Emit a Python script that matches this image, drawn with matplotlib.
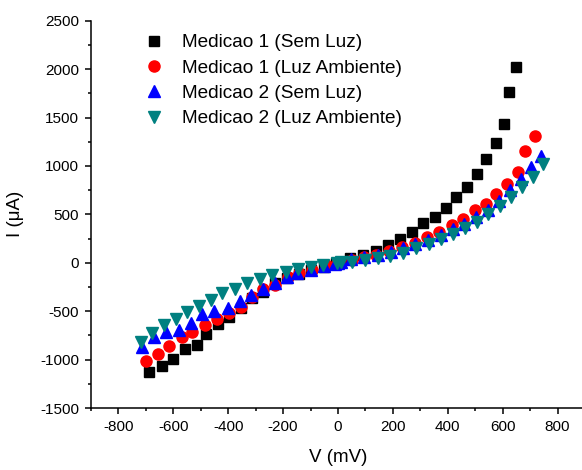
import matplotlib
matplotlib.use("Agg")
import matplotlib.pyplot as plt
from matplotlib.ticker import MultipleLocator

plt.rcParams['font.family'] = ['Liberation Sans', 'DejaVu Sans']
plt.rcParams['axes.unicode_minus'] = False

# Medicao 1 (Sem Luz)
v1 = [-687, -643, -600, -558, -515, -480, -436, -396, -354, -314, -272, -229,
      -186, -143, -98, -52, -8, 0, 8, 44, 91, 137, 183, 225, 268, 308, 352,
      393, 431, 471, 506, 541, 577, 604, 623, 648]
i1 = [-1126, -1064, -995, -892, -854, -733, -637, -558, -471, -368, -299, -213,
      -160, -115, -75, -40, -5, 0, 10, 52, 80, 124, 180, 245, 320, 407, 472,
      568, 679, 779, 920, 1068, 1233, 1436, 1760, 2020]

# Medicao 1 (Luz Ambiente)
v2 = [-698, -655, -616, -570, -531, -485, -442, -397, -354, -314, -275, -230,
      -184, -141, -95, -44, -5, 5, 50, 96, 140, 187, 235, 281, 324, 369, 414,
      455, 498, 538, 577, 617, 655, 681, 717]
i2 = [-1019, -943, -857, -771, -713, -640, -579, -517, -455, -357, -275, -230,
      -145, -103, -75, -24, -3, 5, 30, 59, 76, 121, 165, 207, 262, 317, 386,
      451, 541, 603, 713, 816, 937, 1157, 1312]

# Medicao 2 (Sem Luz)
v3 = [-714, -671, -625, -580, -537, -495, -452, -400, -358, -318, -272, -230,
      -186, -148, -99, -52, -10, 0, 10, 47, 95, 145, 192, 236, 282, 329, 374,
      419, 460, 504, 547, 587, 626, 667, 702, 740]
i3 = [-868, -771, -719, -695, -626, -533, -496, -471, -393, -334, -275, -213,
      -151, -110, -75, -35, -8, 0, 10, 35, 56, 83, 114, 148, 190, 234, 283,
      345, 400, 475, 544, 640, 751, 861, 985, 1102]

# Medicao 2 (Luz Ambiente)
v4 = [-718, -677, -635, -592, -552, -507, -464, -422, -376, -330, -285, -239,
      -190, -145, -99, -53, -4, 10, 51, 99, 145, 190, 237, 285, 330, 376, 420,
      464, 506, 546, 592, 632, 671, 711, 747]
i4 = [-816, -723, -647, -585, -506, -447, -385, -316, -269, -207, -165, -124,
      -99, -68, -41, -21, 0, 5, 7, 25, 49, 72, 103, 148, 193, 245, 296,
      355, 424, 503, 586, 676, 785, 889, 1020]

labels = ["Medicao 1 (Sem Luz)", "Medicao 1 (Luz Ambiente)",
          "Medicao 2 (Sem Luz)", "Medicao 2 (Luz Ambiente)"]

W, H = 582, 470
fig = plt.figure(figsize=(W / 100, H / 100), dpi=100)
ax = fig.add_axes([91 / W, (H - 408) / H, (585 - 91) / W, (408 - 20.7) / H])

ax.plot(v1, i1, ls='none', marker='s', ms=6.6, color='black', mec='black', label=labels[0])
ax.plot(v2, i2, ls='none', marker='o', ms=8.0, color='#ff0000', mec='#ff0000', label=labels[1])
ax.plot(v3, i3, ls='none', marker='^', ms=8.6, color='#0000ff', mec='#0000ff', label=labels[2])
ax.plot(v4, i4, ls='none', marker='v', ms=8.6, color='#008080', mec='#008080', label=labels[3])

ax.set_xlim(-900, 900)
ax.set_ylim(-1500, 2500)
ax.xaxis.set_major_locator(MultipleLocator(200))
ax.xaxis.set_minor_locator(MultipleLocator(100))
ax.yaxis.set_major_locator(MultipleLocator(500))
ax.yaxis.set_minor_locator(MultipleLocator(250))
ax.set_xticks([-800, -600, -400, -200, 0, 200, 400, 600, 800])

for side in ('top', 'right'):
    ax.spines[side].set_visible(False)
for side in ('left', 'bottom'):
    ax.spines[side].set_linewidth(1.1)

ax.tick_params(which='major', direction='out', length=4.2, width=1.1,
               labelsize=11, pad=4.5)
ax.tick_params(which='minor', direction='out', length=2.4, width=1.1)

ax.set_xlabel("V (mV)", fontsize=13.5)
ax.set_ylabel("I (μA)", fontsize=13.5)
ax.xaxis.set_label_coords(0.5, -0.105)
ax.yaxis.set_label_coords(-0.135, 0.5)

fs = 13.7
leg = ax.legend(loc='upper left', frameon=False, fontsize=fs, numpoints=1,
                handlelength=1.0, handletextpad=0.95, labelspacing=0.42,
                borderpad=0, borderaxespad=0,
                bbox_to_anchor=(144.6 / W, (H - 34) / H),
                bbox_transform=fig.transFigure)

fig.savefig("out.png", dpi=100)
